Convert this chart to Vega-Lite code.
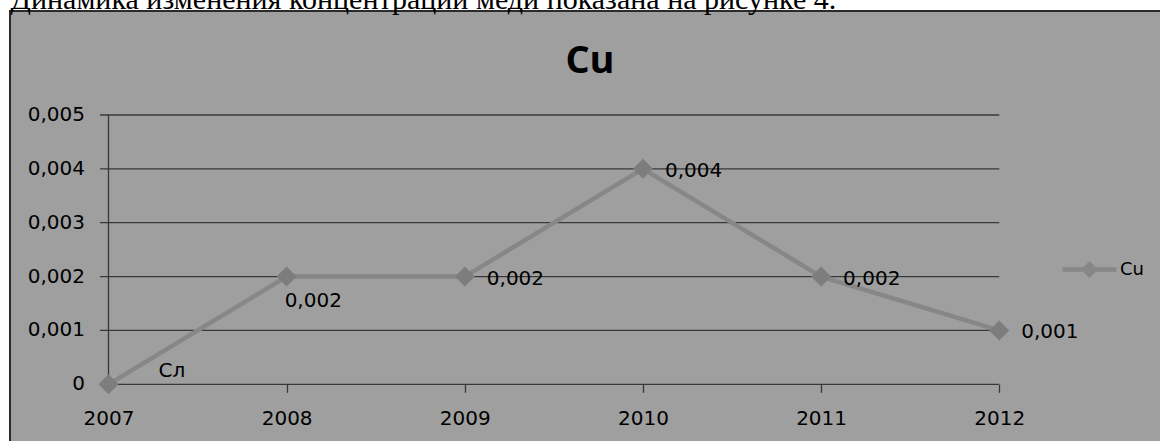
{
  "$schema": "https://vega.github.io/schema/vega-lite/v6.json",
  "width": 1156,
  "height": 436,
  "autosize": {"type": "none"},
  "padding": {"left": 10, "top": 11, "right": -6, "bottom": -6},
  "background": "#ffffff",
  "config": {
    "view": {"fill": "#9f9f9f", "stroke": "#2b2b2b", "strokeWidth": 2},
    "font": "DejaVu Sans",
    "locale": {
      "number": {"decimal": ",", "thousands": "\u00a0", "grouping": [3], "currency": ["", " руб."]}
    }
  },
  "title": {
    "text": "Cu",
    "font": "Open Sans",
    "fontSize": 38,
    "fontWeight": "bold",
    "color": "#000000",
    "anchor": "middle",
    "frame": "group",
    "offset": -97,
    "dx": 2
  },
  "datasets": {
    "cu": [
      {"year": 2007, "value": 0, "label": "Сл", "series": "Cu"},
      {"year": 2008, "value": 0.002, "label": "0,002", "series": "Cu"},
      {"year": 2009, "value": 0.002, "label": "0,002", "series": "Cu"},
      {"year": 2010, "value": 0.004, "label": "0,004", "series": "Cu"},
      {"year": 2011, "value": 0.002, "label": "0,002", "series": "Cu"},
      {"year": 2012, "value": 0.001, "label": "0,001", "series": "Cu"}
    ],
    "levels": [
      {"v": 0}, {"v": 0.001}, {"v": 0.002}, {"v": 0.003}, {"v": 0.004}, {"v": 0.005}
    ]
  },
  "data": {"name": "cu"},
  "resolve": {"axis": {"x": "independent"}},
  "layer": [
    {
      "data": {"name": "levels"},
      "mark": {"type": "rule", "color": "#383838", "strokeWidth": 1.3},
      "encoding": {
        "x": {"datum": 2006.9523, "type": "quantitative", "axis": null,
              "scale": {"domain": [2006.4471, 2012.936], "nice": false, "zero": false}},
        "x2": {"datum": 2012},
        "y": {"field": "v", "type": "quantitative", "axis": null,
              "scale": {"domain": [-0.0011641, 0.0069309], "nice": false, "zero": false}}
      }
    },
    {
      "data": {"name": "levels"},
      "mark": {"type": "rule", "color": "#383838", "strokeWidth": 1.3},
      "encoding": {
        "x": {"datum": 2007, "type": "quantitative", "axis": null},
        "y": {"aggregate": "min", "field": "v", "type": "quantitative", "axis": null},
        "y2": {"aggregate": "max", "field": "v"}
      }
    },
    {
      "data": {"name": "levels"},
      "mark": {"type": "text", "align": "right", "baseline": "middle", "dx": -23.5, "dy": 0,
               "font": "DejaVu Sans", "fontSize": 20, "color": "#000000"},
      "encoding": {
        "x": {"datum": 2007, "type": "quantitative", "axis": null},
        "y": {"field": "v", "type": "quantitative", "axis": null},
        "text": {"field": "v", "type": "quantitative", "format": "~g"}
      }
    },
    {
      "mark": {"type": "line", "strokeWidth": 4.5},
      "encoding": {
        "x": {
          "field": "year", "type": "quantitative",
          "scale": {"domain": [2006.4471, 2012.936], "nice": false, "zero": false},
          "axis": {
            "orient": "bottom", "offset": -62.7, "values": [2007, 2008, 2009, 2010, 2011, 2012],
            "format": "d", "title": null, "domain": false, "grid": false,
            "tickSize": 8, "tickColor": "#383838", "tickWidth": 1.3,
            "labelFont": "DejaVu Sans", "labelFontSize": 20, "labelColor": "#000000",
            "labelPadding": 16, "labelFlush": false, "labelOverlap": false
          }
        },
        "y": {
          "field": "value", "type": "quantitative", "axis": null,
          "scale": {"domain": [-0.0011641, 0.0069309], "nice": false, "zero": false}
        },
        "color": {
          "field": "series", "type": "nominal",
          "scale": {"domain": ["Cu"], "range": ["#878787"]},
          "legend": {
            "orient": "none", "legendX": 1050, "legendY": 229, "title": null, "padding": 0,
            "symbolType": "M-1,0H1M0,-0.2L0.2,0L0,0.2L-0.2,0Z",
            "symbolSize": 2916, "symbolStrokeWidth": 4.5,
            "labelFont": "DejaVu Sans", "labelFontSize": 18, "labelColor": "#000000", "labelOffset": 1,
            "encode": {"symbols": {"update": {"fill": {"value": "#7d7d7d"}, "stroke": {"value": "#878787"}}}}
          }
        }
      }
    },
    {
      "mark": {"type": "point", "shape": "diamond", "filled": true, "size": 400, "color": "#7d7d7d", "opacity": 1},
      "encoding": {
        "x": {
          "field": "year", "type": "quantitative",
          "axis": {
            "orient": "top", "labels": false, "ticks": false, "domain": false, "grid": false,
            "title": "Динамика изменения концентрации меди показана на рисунке 4.",
            "titleFont": "Liberation Serif", "titleFontSize": 30, "titleFontWeight": "normal",
            "titleColor": "#000000", "titleAnchor": "start", "titleAlign": "left",
            "titleBaseline": "alphabetic", "titleX": 0, "titleY": -3
          }
        },
        "y": {"field": "value", "type": "quantitative", "axis": null}
      }
    },
    {
      "transform": [{"filter": "datum.year >= 2009"}],
      "mark": {"type": "text", "align": "left", "baseline": "middle", "dx": 22, "dy": 2,
               "font": "DejaVu Sans", "fontSize": 20, "color": "#000000"},
      "encoding": {
        "x": {"field": "year", "type": "quantitative", "axis": null},
        "y": {"field": "value", "type": "quantitative", "axis": null},
        "text": {"field": "label"}
      }
    },
    {
      "transform": [{"filter": "datum.year == 2008"}],
      "mark": {"type": "text", "align": "left", "baseline": "middle", "dx": -2, "dy": 24,
               "font": "DejaVu Sans", "fontSize": 20, "color": "#000000"},
      "encoding": {
        "x": {"field": "year", "type": "quantitative", "axis": null},
        "y": {"field": "value", "type": "quantitative", "axis": null},
        "text": {"field": "label"}
      }
    },
    {
      "transform": [{"filter": "datum.year == 2007"}],
      "mark": {"type": "text", "align": "left", "baseline": "middle", "dx": 50, "dy": -13,
               "font": "DejaVu Sans", "fontSize": 20, "color": "#000000"},
      "encoding": {
        "x": {"field": "year", "type": "quantitative", "axis": null},
        "y": {"field": "value", "type": "quantitative", "axis": null},
        "text": {"field": "label"}
      }
    }
  ]
}
